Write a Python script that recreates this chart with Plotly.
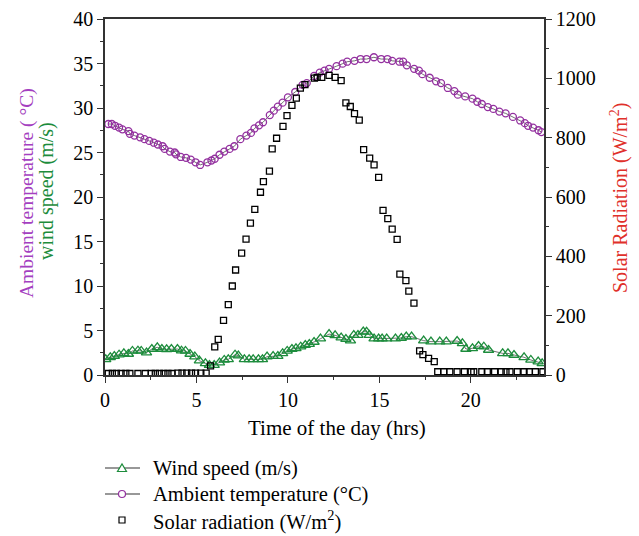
import plotly.graph_objects as go

# Ambient temperature (°C), purple circles
temp_hours = [0.18, 0.37, 0.55, 0.77, 0.95, 1.28, 1.36, 1.61, 1.92, 2.16,
              2.42, 2.67, 2.89, 3.15, 3.26, 3.55, 3.81, 3.88, 4.14, 4.43,
              4.69, 4.95, 5.2, 5.6, 5.82, 6.0, 6.26, 6.52, 6.81, 7.07,
              7.4, 7.73, 7.98, 8.17, 8.42, 8.64, 9.01, 9.23, 9.45, 9.71,
              10.0, 10.4, 10.8, 11.03, 11.43, 11.74, 12.0, 12.25, 12.66, 12.99,
              13.24, 13.64, 13.97, 14.3, 14.7, 15.1, 15.44, 15.7, 16.1, 16.3,
              16.5, 16.9, 17.16, 17.35, 17.75, 18.1, 18.37, 18.74, 19.1, 19.29,
              19.69, 20.09, 20.35, 20.6, 20.93, 21.23, 21.56, 21.9, 22.3, 22.7,
              22.95, 23.13, 23.4, 23.7, 23.86]
temp_values = [28.2, 28.2, 28.0, 27.8, 27.6, 27.4, 27.1, 26.9, 26.7, 26.5,
               26.3, 26.1, 25.9, 25.7, 25.4, 25.1, 25.0, 24.8, 24.5, 24.4,
               24.2, 23.9, 23.6, 23.9, 24.1, 24.3, 24.75, 25.1, 25.4, 25.7,
               26.5, 26.9, 27.2, 27.7, 28.05, 28.4, 29.2, 29.7, 30.15, 30.6,
               31.2, 31.8, 32.6, 32.8, 33.6, 33.97, 34.2, 34.4, 34.7, 34.98,
               35.2, 35.3, 35.5, 35.5, 35.7, 35.5, 35.5, 35.3, 35.2, 35.2,
               34.8, 34.4, 34.2, 33.8, 33.4, 33.0, 32.8, 32.25, 31.9, 31.5,
               31.3, 31.05, 30.7, 30.45, 30.1, 29.9, 29.6, 29.4, 29.0, 28.6,
               28.3, 28.0, 27.8, 27.5, 27.3]

# Wind speed (m/s), green triangles
wind_hours = [0.04, 0.29, 0.51, 0.77, 1.03, 1.28, 1.5, 1.8, 1.98, 2.27,
              2.56, 2.86, 3.11, 3.37, 3.63, 3.96, 4.18, 4.4, 4.65, 4.91,
              5.16, 5.49, 5.71, 5.97, 6.26, 6.52, 6.74, 7.11, 7.29, 7.62,
              7.88, 8.1, 8.39, 8.61, 8.86, 9.19, 9.45, 9.71, 9.96, 10.22,
              10.44, 10.7, 10.95, 11.17, 11.43, 11.78, 12.25, 12.58, 12.91, 13.17,
              13.42, 13.6, 13.83, 14.12, 14.3, 14.45, 14.71, 14.96, 15.15, 15.4,
              15.88, 16.2, 16.47, 16.76, 17.42, 17.82, 18.3, 18.66, 19.25, 19.54,
              19.73, 20.09, 20.42, 20.71, 20.97, 21.74, 22.03, 22.36, 22.91, 23.28,
              23.68, 23.9]
wind_values = [1.76, 1.99, 2.13, 2.28, 2.43, 2.36, 2.7, 2.73, 2.7, 2.51,
               2.92, 3.11, 2.92, 2.88, 2.92, 2.92, 2.73, 2.7, 2.36, 2.06,
               1.61, 1.31, 1.12, 1.12, 1.39, 1.69, 1.76, 2.28, 2.17, 1.76,
               1.76, 1.76, 1.76, 1.76, 2.06, 2.13, 2.13, 2.43, 2.7, 2.92,
               3.0, 3.18, 3.37, 3.48, 3.71, 4.08, 4.6, 4.46, 4.2, 4.04,
               3.86, 4.49, 4.49, 4.87, 4.85, 4.49, 4.08, 4.08, 4.08, 4.08,
               4.08, 4.16, 4.31, 4.31, 3.86, 3.75, 3.75, 3.75, 3.82, 3.56,
               2.92, 3.0, 3.26, 3.18, 2.81, 2.43, 2.43, 2.25, 1.99, 1.69,
               1.5, 1.31]

# Solar radiation (W/m2), black squares, right axis
solar_hours = [0.18, 0.4, 0.62, 0.88, 1.14, 1.36, 1.8, 2.2, 2.53, 2.75,
               2.97, 3.22, 3.44, 3.66, 3.99, 4.21, 4.47, 4.73, 4.95, 5.24, 5.53,
               5.77, 6.0, 6.19, 6.48, 6.74, 6.96, 7.14, 7.47, 7.71, 7.95,
               8.19, 8.5, 8.66, 8.99, 9.14, 9.38, 9.73, 9.95, 10.22, 10.46,
               10.68, 10.93, 11.45, 11.6, 11.85, 12.25, 12.58, 12.91, 13.17, 13.41,
               13.64, 13.9, 14.14, 14.47, 14.71, 14.96, 15.2, 15.46, 15.7, 15.97,
               16.12, 16.45, 16.61, 16.89, 17.2, 17.38, 17.69, 18.0,
               18.19, 18.52, 18.85, 19.25, 19.65, 20.02, 20.16, 20.6, 20.9, 21.3,
               21.66, 21.92, 22.14, 22.54, 22.91, 23.2, 23.53, 23.94]
solar_values = [5, 5, 5, 5, 5, 5, 5, 5, 5, 5,
                5, 5, 5, 5, 6, 6, 6, 6, 6, 6, 6,
                31, 95, 120, 184, 237, 300, 354, 411, 458, 512,
                558, 616, 652, 687, 762, 798, 838, 874, 909, 933,
                967, 979, 1001, 1003, 1003, 1010, 1003, 992, 917, 905,
                881, 859, 760, 731, 708, 666, 555, 527, 492, 457,
                340, 318, 283, 242, 81, 69, 56, 45,
                11, 11, 11, 11, 11, 11, 11, 11, 11, 11,
                11, 11, 11, 11, 11, 11, 11, 11]

legend_labels = ["Wind speed (m/s)", "Ambient temperature (°C)", "Solar radiation (W/m<sup>2</sup>)"]

purple = "#93309f"
green = "#1d8c3c"
line_grey = "#333333"

fig = go.Figure()
fig.add_trace(go.Scatter(
    x=wind_hours, y=wind_values, mode="lines+markers", name=legend_labels[0],
    line=dict(color=line_grey, width=0.7),
    marker=dict(symbol="triangle-up-open", size=9, color=green, line=dict(width=1.3)),
))
fig.add_trace(go.Scatter(
    x=temp_hours, y=temp_values, mode="lines+markers", name=legend_labels[1],
    line=dict(color=line_grey, width=0.7),
    marker=dict(symbol="circle-open", size=7, color=purple, line=dict(width=1.3)),
))
fig.add_trace(go.Scatter(
    x=solar_hours, y=solar_values, mode="markers", name=legend_labels[2],
    yaxis="y2",
    marker=dict(symbol="square-open", size=6, color="black", line=dict(width=1.3)),
))

# plot area in pixels: x 105..544, y 19..375
L, R, T, B = 105, 544, 19, 375


def px(x):
    return (x - L) / (R - L)


def py(y):
    return (B - y) / (B - T)


annotations = [
    dict(text="Time of the day (hrs)", x=px(337), y=py(428), font=dict(size=21)),
    dict(text="Ambient temperature ( °C)", x=px(27), y=py(193), textangle=-90,
         font=dict(size=19.5, color="#a43fc0")),
    dict(text="wind speed (m/s)", x=px(47), y=py(191), textangle=-90,
         font=dict(size=20, color=green)),
    dict(text="Solar Radiation (W/m<sup>2</sup>)", x=px(619), y=py(198), textangle=-90,
         font=dict(size=20, color="#e0302a")),
]
for a in annotations:
    a.update(xref="paper", yref="paper", showarrow=False, xanchor="center", yanchor="middle")

# hand-drawn legend below the plot
rows = [468, 494, 520]
shapes = []
for i, (label, yrow) in enumerate(zip(legend_labels, rows)):
    annotations.append(dict(text=label, x=px(151), y=py(yrow), xref="paper", yref="paper",
                            showarrow=False, xanchor="left", yanchor="middle",
                            font=dict(size=20.5)))
    anchor = dict(xref="paper", yref="paper", xsizemode="pixel", ysizemode="pixel",
                  xanchor=px(122), yanchor=py(yrow))
    if i < 2:
        shapes.append(dict(type="line", xref="paper", yref="paper",
                           x0=px(105), x1=px(140), y0=py(yrow), y1=py(yrow),
                           line=dict(color=line_grey, width=1.2)))
    if i == 0:
        shapes.append(dict(type="path", path="M -4.5,-3.5 L 4.5,-3.5 L 0,4 Z",
                           fillcolor="white", line=dict(color=green, width=1.2), **anchor))
    elif i == 1:
        shapes.append(dict(type="circle", x0=-3.5, x1=3.5, y0=-3.5, y1=3.5,
                           fillcolor="white", line=dict(color=purple, width=1.2), **anchor))
    else:
        shapes.append(dict(type="rect", x0=-3, x1=3, y0=-3, y1=3,
                           fillcolor="white", line=dict(color="black", width=1.2), **anchor))

axis_common = dict(
    showline=True, linecolor=line_grey, linewidth=1.5,
    ticks="outside", ticklen=6, tickwidth=1.2, tickcolor=line_grey,
    showgrid=False, zeroline=False, automargin=False,
    tickfont=dict(size=20),
)

fig.update_layout(
    width=639, height=536,
    margin=dict(l=L, r=639 - R, t=T, b=536 - B, autoexpand=False),
    paper_bgcolor="white", plot_bgcolor="white",
    font=dict(family="Liberation Serif", size=20, color="black"),
    showlegend=False,
    annotations=annotations,
    shapes=shapes,
    xaxis=dict(
        range=[0, 24], dtick=5, mirror=True,
        minor=dict(ticks="outside", ticklen=3, dtick=2.5, tickcolor=line_grey),
        **axis_common,
    ),
    yaxis=dict(
        range=[0, 40], dtick=5,
        minor=dict(ticks="outside", ticklen=3, dtick=2.5, tickcolor=line_grey),
        **axis_common,
    ),
    yaxis2=dict(
        overlaying="y", side="right", range=[0, 1200], dtick=200,
        minor=dict(ticks="outside", ticklen=3, dtick=100, tickcolor=line_grey),
        **axis_common,
    ),
)

# page body margin off so the figure sits at the window origin
fig.write_html("out.html", config={"displayModeBar": False},
               post_script="document.body.style.margin='0';")
